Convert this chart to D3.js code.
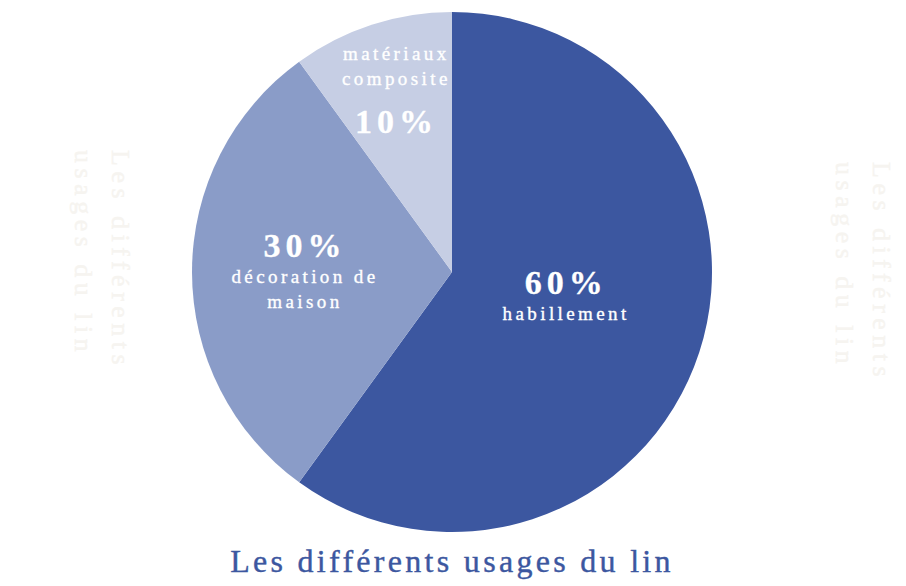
<!DOCTYPE html>
<html>
<head>
<meta charset="utf-8">
<script src="https://cdn.jsdelivr.net/npm/d3@7"></script>
<style>
  html, body { margin: 0; padding: 0; background: #ffffff; }
  svg { display: block; }
</style>
</head>
<body>
<svg id="chart" width="906" height="586"></svg>
<script>
"use strict";

// Data
var categories = ["habillement", "décoration de maison", "matériaux composite"];
var values = [60, 30, 10];
var title = "Les différents usages du lin";

// Look
var colours = ["#3c57a0", "#8a9cc8", "#c6cee4"];
var serif = "'Liberation Serif', 'DejaVu Serif', serif";
var cx = 452, cy = 272, r = 260;
var labelRadius = [120, 147, 180];

// label lines for each slice: [text, dy, kind]
function label_lines(i) {
  var pct = values[i] + "%";
  if (i == 0) return [[pct, -15, "pct"], ["habillement", 11, "name"]];
  if (i == 1) return [[pct, -15, "pct"], ["décoration de", 11, "name"], ["maison", 36, "name"]];
  return [["matériaux", -41, "name"], ["composite", -16, "name"], [pct, 32, "pct"]];
}

var svg = d3.select("#chart");

// faint vertical titles on both sides
function side_title(x, y) {
  var g = svg.append("g").attr("transform", "translate(" + x + "," + y + ") rotate(90)");
  var words = ["Les différents", "usages du lin"];
  words.forEach(function(w, k) {
    g.append("text")
      .attr("x", 0)
      .attr("y", k * 37)
      .style("font-family", serif)
      .style("font-size", "26px")
      .style("letter-spacing", "5.5px")
      .style("fill", "#f6f4f0")
      .style("stroke", "#f6f4f0")
      .style("stroke-width", "0.4px")
      .text(w);
  });
}
side_title(112, 150);
side_title(873, 162);

var pie = d3.pie().sort(null).value(function(d) { return d; });
var arc = d3.arc().innerRadius(0).outerRadius(r);
var arcs = pie(values);

var g = svg.append("g").attr("transform", "translate(" + cx + "," + cy + ")");

g.selectAll("path")
  .data(arcs)
  .enter()
  .append("path")
  .attr("d", arc)
  .style("fill", function(d, i) { return colours[i]; });

arcs.forEach(function(d, i) {
  var la = d3.arc().innerRadius(labelRadius[i]).outerRadius(labelRadius[i]);
  var c = la.centroid(d);
  label_lines(i).forEach(function(line) {
    var t = g.append("text")
      .attr("x", c[0])
      .attr("y", c[1] + line[1])
      .attr("text-anchor", "middle")
      .style("font-family", serif)
      .style("fill", "#ffffff")
      .style("stroke", "#ffffff")
      .text(line[0]);
    if (line[2] == "pct") {
      t.style("font-size", "34px").style("font-weight", "bold")
        .style("letter-spacing", "5px").style("stroke-width", "0.3px");
    } else {
      t.style("font-size", "19px").style("letter-spacing", "3.4px")
        .style("stroke-width", "0.35px");
    }
  });
});

// bottom title
svg.append("text")
  .attr("x", cx)
  .attr("y", 572)
  .attr("text-anchor", "middle")
  .style("font-family", serif)
  .style("font-size", "32px")
  .style("letter-spacing", "3.3px")
  .style("fill", "#3c57a0")
  .style("stroke", "#3c57a0")
  .style("stroke-width", "0.4px")
  .text(title);
</script>
</body>
</html>
